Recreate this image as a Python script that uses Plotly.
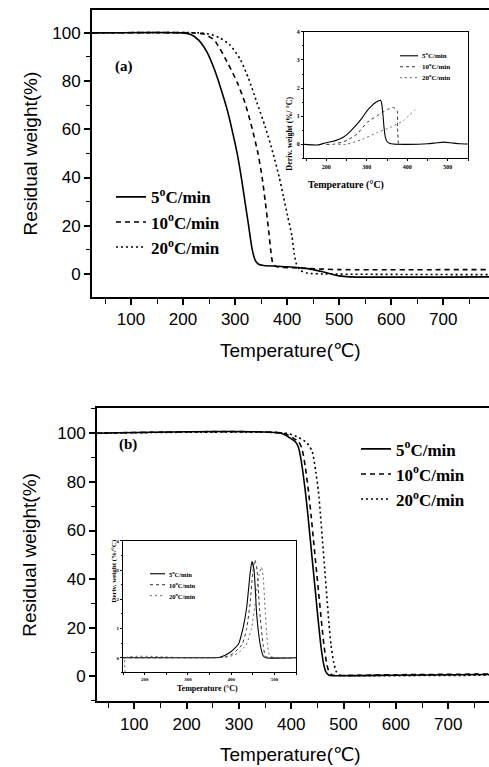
import plotly.graph_objects as go

W_PX, H_PX = 489, 767

# ---------------- data: panel (a) main TGA ----------------
T5a = [25, 200, 215, 230, 246, 260, 271, 285, 296, 304, 312, 319, 326, 333, 339, 345, 355, 400, 440, 470, 500, 520, 788]
W5a = [100, 100, 99.3, 97, 92, 85, 78, 68, 58, 50, 40, 30, 20, 10, 5.5, 4, 3.5, 3, 2.2, 0.8, -0.8, -1.2, -1.2]
T10a = [25, 220, 240, 260, 287, 305, 319, 332, 344, 352, 358, 364, 369, 373, 380, 420, 470, 500, 788]
W10a = [100, 100, 99.5, 97, 87, 79, 71, 61, 50, 40, 30, 19, 9, 4, 3, 2.5, 2, 1.8, 1.8]
T20a = [25, 230, 250, 270, 290, 310, 326, 342, 358, 373, 385, 393, 401, 409, 414, 418, 425, 440, 470, 788]
W20a = [100, 100, 99.5, 98, 95, 89, 81, 71, 61, 50, 40, 32, 24, 16, 8, 4, 1.5, 0.3, 0, -0.3]

# ---------------- data: panel (a) inset DTG ----------------
Ti5a = [145, 180, 197, 215, 230, 242, 255, 265, 276, 290, 301, 312, 321, 328, 334, 337, 340, 343, 346, 350, 356, 365, 400, 450, 470, 490, 510, 530, 550]
Di5a = [0, -0.02, 0.05, 0.1, 0.17, 0.25, 0.4, 0.55, 0.72, 0.97, 1.2, 1.37, 1.48, 1.54, 1.57, 1.45, 1.05, 0.55, 0.25, 0.1, 0.04, 0.01, 0, 0.02, 0.05, 0.08, 0.05, 0.02, 0.01]
Ti10a = [200, 217, 251, 276, 301, 326, 351, 366, 375, 376, 378]
Di10a = [0, 0, 0.14, 0.37, 0.78, 1.02, 1.24, 1.31, 1.2, 0.6, 0]
Ti20a = [230, 250, 289, 326, 358, 391, 420]
Di20a = [0, 0, 0.18, 0.42, 0.6, 0.85, 1.24]

# ---------------- data: panel (b) main TGA ----------------
T5b = [25, 380, 398, 408, 414, 418, 421, 427, 432, 437, 442, 447, 452, 457, 462, 466, 472, 480, 600, 778]
W5b = [100, 100, 98, 96.5, 94, 90, 86, 76, 66, 55, 44, 33, 22, 12, 5, 2, 0.5, 0.3, 0.5, 0.8]
T10b = [25, 385, 404, 414, 420, 424, 427, 433, 438, 443, 448, 453, 458, 463, 468, 472, 478, 485, 600, 778]
W10b = [100, 100, 98, 96.5, 94, 90, 86, 76, 66, 55, 44, 33, 22, 12, 5, 2, 0.6, 0.4, 0.7, 1.0]
T20b = [25, 390, 412, 430, 440, 447, 452, 456, 460, 464, 468, 472, 476, 481, 486, 492, 500, 778]
W20b = [100, 100, 98.5, 96, 92.5, 84, 76, 66, 55, 44, 33, 22, 13, 6, 2, 0.6, 0.4, 0.5]

# ---------------- data: panel (b) inset DTG ----------------
Ti5b = [150, 300, 374, 397, 417, 428, 436, 444, 448, 453, 459, 467, 474, 480, 550]
Di5b = [0, 0, 0.02, 0.18, 0.47, 1.05, 1.73, 2.9, 3.29, 3.0, 1.5, 0.48, 0.07, 0, 0]
Ti10b = [150, 300, 385, 405, 425, 436, 444, 450, 455, 460, 466, 474, 480, 550]
Di10b = [0, 0, 0.02, 0.15, 0.45, 1.0, 1.9, 2.9, 3.35, 3.0, 1.6, 0.45, 0.05, 0]
Ti20b = [155, 156, 300, 390, 415, 435, 447, 456, 464, 470, 474, 478, 484, 490, 550]
Di20b = [-0.5, 0, 0, 0.02, 0.15, 0.45, 1.0, 1.9, 2.8, 3.1, 2.8, 1.8, 0.5, 0.05, 0]

rate_labels = ["5<sup>o</sup>C/min", "10<sup>o</sup>C/min", "20<sup>o</sup>C/min"]
main_x_ticks = [100, 200, 300, 400, 500, 600, 700]
main_y_ticks = [0, 20, 40, 60, 80, 100]
inset_x_ticks = [200, 300, 400, 500]
inset_y_ticks = [0, 1, 2, 3, 4]


def px(x):
    return x / W_PX


def py(y):
    return 1 - y / H_PX


SANS = "Liberation Sans, Arial, DejaVu Sans, Noto Sans CJK SC"
SERIF = "Liberation Serif, Times New Roman, serif"

fig = go.Figure()

main_styles = [dict(color="black", width=1.6, dash="solid"),
               dict(color="black", width=1.6, dash="5px,4px"),
               dict(color="black", width=1.6, dash="2px,3px")]
inset_styles = [dict(color="black", width=1.1, dash="solid"),
                dict(color="#333", width=1.0, dash="dot"),
                dict(color="#555", width=0.9, dash="2px,3px")]

# panel (a) main
for i, (xs, ys) in enumerate([(T5a, W5a), (T10a, W10a), (T20a, W20a)]):
    fig.add_trace(go.Scatter(x=xs, y=ys, mode="lines", line=dict(shape="spline", smoothing=0.6, **main_styles[i]),
                             name=rate_labels[i], xaxis="x", yaxis="y", legend="legend"))
# panel (a) inset
for i, (xs, ys) in enumerate([(Ti5a, Di5a), (Ti10a, Di10a), (Ti20a, Di20a)]):
    fig.add_trace(go.Scatter(x=xs, y=ys, mode="lines", line=dict(shape="spline", smoothing=0.5, **inset_styles[i]),
                             showlegend=False, xaxis="x2", yaxis="y2"))
# panel (b) main
for i, (xs, ys) in enumerate([(T5b, W5b), (T10b, W10b), (T20b, W20b)]):
    fig.add_trace(go.Scatter(x=xs, y=ys, mode="lines", line=dict(shape="spline", smoothing=0.6, **main_styles[i]),
                             name=rate_labels[i], xaxis="x3", yaxis="y3", legend="legend2"))
# panel (b) inset
for i, (xs, ys) in enumerate([(Ti5b, Di5b), (Ti10b, Di10b), (Ti20b, Di20b)]):
    fig.add_trace(go.Scatter(x=xs, y=ys, mode="lines", line=dict(shape="spline", smoothing=0.5, **inset_styles[i]),
                             showlegend=False, xaxis="x4", yaxis="y4"))


def main_x(domain, rng, anchor):
    return dict(domain=domain, range=rng, anchor=anchor, showline=True, linecolor="black", linewidth=2,
                mirror=True, ticks="outside", ticklen=6, tickwidth=1.5, tickcolor="black",
                tickvals=main_x_ticks, showgrid=False, zeroline=False,
                tickfont=dict(family=SANS, size=17, color="black"),
                minor=dict(dtick=50, tick0=0, ticks="outside", ticklen=5, tickwidth=1.3, tickcolor="black"))


def main_y(domain, rng, anchor):
    return dict(domain=domain, range=rng, anchor=anchor, showline=True, linecolor="black", linewidth=2,
                ticks="outside", ticklen=6, tickwidth=1.5, tickcolor="black",
                tickvals=main_y_ticks, showgrid=False, zeroline=False,
                tickfont=dict(family=SANS, size=17, color="black"),
                minor=dict(dtick=10, tick0=0, ticks="outside", ticklen=4, tickwidth=1.2, tickcolor="black"))


def inset_x(domain, rng, anchor, fs):
    return dict(domain=domain, range=rng, anchor=anchor, showline=True, linecolor="black", linewidth=1,
                mirror=True, ticks="outside", ticklen=2, tickwidth=1, tickcolor="black",
                tickvals=inset_x_ticks, showgrid=False, zeroline=False,
                tickfont=dict(family=SERIF, size=fs, color="black", weight="bold"),
                minor=dict(dtick=50, tick0=0, ticks="outside", ticklen=1.5, tickcolor="black"))


def inset_y(domain, rng, anchor, fs):
    return dict(domain=domain, range=rng, anchor=anchor, showline=True, linecolor="black", linewidth=1,
                mirror=True, ticks="outside", ticklen=2, tickwidth=1, tickcolor="black",
                tickvals=inset_y_ticks, showgrid=False, zeroline=False,
                tickfont=dict(family=SERIF, size=fs, color="black", weight="bold"),
                minor=dict(dtick=0.5, tick0=0, ticks="outside", ticklen=1.5, tickcolor="black"))


legend_common = dict(bgcolor="rgba(0,0,0,0)", borderwidth=0, xanchor="left", yanchor="top",
                     font=dict(family=SERIF, size=17, color="black", weight="bold"),
                     tracegroupgap=0, itemclick=False)

ann = []
shapes = []

# axis titles
for yc in (151, 554):
    ann.append(dict(text="Residual weight(%)", x=px(30), y=py(yc), xref="paper", yref="paper", textangle=-90,
                    showarrow=False, xanchor="center", yanchor="middle",
                    font=dict(family=SANS, size=19, color="black")))
for yc in (349, 754):
    ann.append(dict(text="Temperature(℃)", x=px(290), y=py(yc), xref="paper", yref="paper",
                    showarrow=False, xanchor="center", yanchor="middle",
                    font=dict(family=SANS, size=19, color="black")))
# panel labels
ann.append(dict(text="(a)", x=px(113), y=py(53), xref="paper", yref="paper", showarrow=False,
                font=dict(family=SERIF, size=15, color="black", weight="bold")))
ann.append(dict(text="(b)", x=px(117), y=py(443), xref="paper", yref="paper", showarrow=False,
                font=dict(family=SERIF, size=15, color="black", weight="bold")))

# inset titles
ann.append(dict(text="Temperature (°C)", x=px(386), y=py(175), xref="paper", yref="paper", showarrow=False,
                font=dict(family=SERIF, size=10, color="black", weight="bold")))
ann.append(dict(text="Deriv. weight (%/ °C)", x=px(290), y=py(92), xref="paper", yref="paper", showarrow=False,
                textangle=-90, font=dict(family=SERIF, size=8, color="black", weight="bold")))
ann.append(dict(text="Temperature (°C)", x=px(207), y=py(695), xref="paper", yref="paper", showarrow=False,
                font=dict(family=SERIF, size=8, color="black", weight="bold")))
ann.append(dict(text="Deriv. weight (%/°C)", x=px(108), y=py(604), xref="paper", yref="paper", showarrow=False,
                textangle=-90, font=dict(family=SERIF, size=7, color="black", weight="bold")))

# inset legends (keys + labels)
inset_leg = [((400, 418, 420), (53, 64, 75), 7), ((150, 165, 167), (573, 584, 595), 6.5)]
for (x0, x1, xt), rows, fs in inset_leg:
    for i, yr in enumerate(rows):
        st = inset_styles[i]
        shapes.append(dict(type="line", xref="paper", yref="paper", x0=px(x0), x1=px(x1), y0=py(yr), y1=py(yr),
                           line=dict(color=st["color"], width=st["width"], dash=st["dash"])))
        ann.append(dict(text=rate_labels[i], x=px(xt), y=py(yr), xref="paper", yref="paper", showarrow=False,
                        xanchor="left", yanchor="middle",
                        font=dict(family=SERIF, size=fs, color="black", weight="bold")))

fig.update_layout(
    width=W_PX, height=H_PX, margin=dict(l=0, r=0, t=0, b=0),
    paper_bgcolor="white", plot_bgcolor="white",
    xaxis=main_x([px(92), 1.0], [25, 788], "y"),
    yaxis=main_y([py(295), py(7)], [-9.5, 109.5], "x"),
    xaxis2=inset_x([px(304), px(468)], [145, 550], "y2", 6),
    yaxis2=inset_y([py(156), py(29)], [-0.5, 4], "x2", 6),
    xaxis3=main_x([px(97), 1.0], [28.7, 778], "y3"),
    yaxis3=main_y([py(701), py(407)], [-10.2, 110.2], "x3"),
    xaxis4=inset_x([px(123), px(296)], [150, 550], "y4", 5),
    yaxis4=inset_y([py(672), py(540)], [-0.5, 4], "x4", 5),
    legend=dict(x=px(111), y=py(177), **legend_common),
    legend2=dict(x=px(356), y=py(430), **legend_common),
    annotations=ann, shapes=shapes, showlegend=True,
)

fig.write_html("out.html")
